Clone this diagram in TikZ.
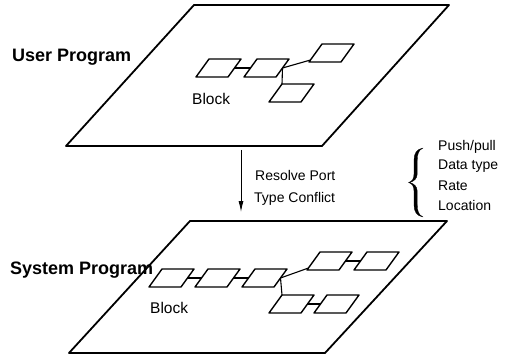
\documentclass[tikz,border=0pt]{standalone}
\usepackage{fontspec}
\setmainfont{Liberation Sans}
\usetikzlibrary{arrows.meta}
\tikzset{
  plane/.style={line width=1.8pt, line join=round, line cap=round},
  blkline/.style={line width=1.4pt, line join=round},
  conn/.style={line width=1.1pt},
  pics/blk/.style={code={
    \draw[blkline] (0,0) -- (32,0) -- (19,18) -- (-13,18) -- cycle;
    \coordinate (-l) at (-6.5,9);
    \coordinate (-r) at (25.5,9);
    \coordinate (-tl) at (0,0);
    \coordinate (-lb) at (-11.5,16);
  }},
  lbl/.style={anchor=base west, inner sep=0pt, font=\fontsize{14}{16}\selectfont},
  blbl/.style={anchor=base west, inner sep=0pt, font=\fontsize{18}{20}\selectfont\bfseries},
  blocklbl/.style={anchor=base west, inner sep=0pt, font=\fontsize{15.5}{18}\selectfont},
  bracefill/.style={fill=black, draw=black, line width=0.3pt, line join=round},
}
\begin{document}
\begin{tikzpicture}[x=1pt,y=-1pt]
\useasboundingbox (0,0) rectangle (516,358);

% top plane
\coordinate (P1) at (194,5);
\coordinate (P2) at (449,5);
\coordinate (P3) at (322,146);
\coordinate (P4) at (66,146);
\draw[plane] (P1) -- (P2) -- (P3) -- (P4) -- cycle;

% bottom plane
\coordinate (Q1) at (190,221);
\coordinate (Q2) at (447,221);
\coordinate (Q3) at (325,353);
\coordinate (Q4) at (69,353);
\draw[plane] (Q1) -- (Q2) -- (Q3) -- (Q4) -- cycle;

% top blocks
\pic (A) at (209,59) {blk};
\pic (B) at (257,59) {blk};
\pic (C) at (322,44) {blk};
\pic (D) at (282,84) {blk};
\draw[conn] (A-r) -- (B-l);
\draw[conn] (B-r) -- (C-lb);
\draw[conn] (B-r) -- (D-tl);

% bottom blocks
\pic (E1) at (162,269) {blk};
\pic (E2) at (208,269) {blk};
\pic (E3) at (255,269) {blk};
\pic (E4) at (320,252) {blk};
\pic (E5) at (367,252) {blk};
\pic (E6) at (282,295) {blk};
\pic (E7) at (327,295) {blk};
\draw[conn] (E1-r) -- (E2-l);
\draw[conn] (E2-r) -- (E3-l);
\draw[conn] (E3-r) -- (E4-lb);
\draw[conn] (E3-r) -- (E6-tl);
\draw[conn] (E4-r) -- (E5-l);
\draw[conn] (E6-r) -- (E7-l);

% labels
\node[blbl] (up) at (12,61.5) {User Program};
\node[blbl] (sp) at (10,274) {System Program};
\node[blocklbl] (bk1) at (192,105) {Block};
\node[blocklbl] (bk2) at (150,313) {Block};

% arrow
\coordinate (ar1) at (241,150);
\coordinate (ar2) at (241,212);
\draw[line width=0.9pt, -{Latex[length=11pt,width=5pt]}] (ar1) -- (ar2);
\node[lbl] (rp) at (255,181) {Resolve Port};
\node[lbl] (tc) at (254,202) {Type Conflict};

% brace
\fill[bracefill] (423,148) .. controls (417,149) and (414,153) .. (414,160)
  -- (414,174) .. controls (414,179) and (412,181.5) .. (408.5,182.5)
  .. controls (412,183.5) and (414,186) .. (414,191)
  -- (414,205) .. controls (414,212) and (417,216) .. (423,217)
  .. controls (418.5,215) and (417.2,211) .. (417.2,204)
  -- (417.2,191) .. controls (417.2,186.5) and (414,183.5) .. (409.5,182.5)
  .. controls (414,181.5) and (417.2,178.5) .. (417.2,174)
  -- (417.2,161) .. controls (417.2,154) and (418.5,150) .. (423,148) -- cycle;
\node[lbl] (t1) at (438,150) {Push/pull};
\node[lbl] (t2) at (438,170) {Data type};
\node[lbl] (t3) at (438,190) {Rate};
\node[lbl] (t4) at (438,210) {Location};
\end{tikzpicture}
\end{document}
